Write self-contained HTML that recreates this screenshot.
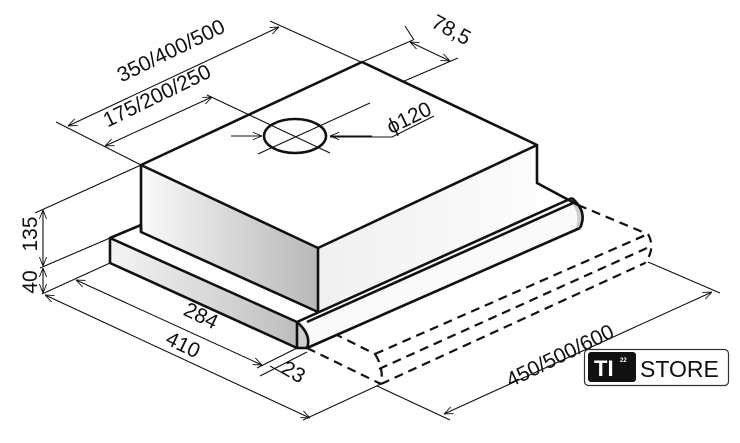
<!DOCTYPE html>
<html><head><meta charset="utf-8"><style>
html,body{margin:0;padding:0;background:#fff;}
svg{display:block;}
text{font-family:"Liberation Sans",sans-serif;fill:#111;}
</style></head><body>
<svg width="740" height="443" viewBox="0 0 740 443" xmlns="http://www.w3.org/2000/svg">
<defs>
<linearGradient id="gf" x1="0" y1="0" x2="1" y2="0">
<stop offset="0" stop-color="#fafafa"/><stop offset="0.5" stop-color="#d8d8d8"/><stop offset="1" stop-color="#b8b8b8"/>
</linearGradient>
<linearGradient id="gr" x1="0" y1="0" x2="1" y2="0">
<stop offset="0" stop-color="#f0f0f0"/><stop offset="1" stop-color="#fcfcfc"/>
</linearGradient>
<linearGradient id="gt" x1="0" y1="0" x2="1" y2="0">
<stop offset="0" stop-color="#f4f4f4"/><stop offset="0.5" stop-color="#dadada"/><stop offset="1" stop-color="#bdbdbd"/>
</linearGradient>
<marker id="a" viewBox="0 0 10 10" refX="10" refY="5" markerWidth="9" markerHeight="9" orient="auto-start-reverse" markerUnits="userSpaceOnUse">
<path d="M0,1 L10,5 L0,9" fill="none" stroke="#111" stroke-width="1"/>
</marker>
</defs>

<g fill="none" stroke="#111" stroke-width="2.2" stroke-dasharray="9,6">
<path d="M578,205 L645,233"/>
<path d="M307,320 L375,354"/>
<path d="M375,354 L648,234"/>
<path d="M379,369 L647,248"/>
<path d="M381,384 L645,263"/>
<path d="M307,348 L381,384"/>
<path d="M648,234 Q656,248 645,263"/>
<path d="M375,354 Q384,368 381,384"/>
</g>

<polygon points="110,238 297,322 297,348 110,263" fill="url(#gt)"/>
<path d="M297,322 L572,198 Q588,212 580,228 L307,348 L297,348 Z" fill="#fafafa" stroke="none"/>
<path d="M297,322 Q312,335 307,348 L297,348 Z" fill="#cfcfcf"/>
<path d="M572,198 Q588,212 580,228 L575,230 Q582,212 568,200 Z" fill="#cfcfcf"/>
<polygon points="141,165 362,62 537,145 318,248" fill="#fff"/>
<polygon points="141,165 318,248 318,312 141,232" fill="url(#gf)"/>
<polygon points="318,248 537,145 537,212 318,312" fill="url(#gr)"/>

<g fill="none" stroke="#111" stroke-width="2.6" stroke-linejoin="round">
<path d="M141,165 L362,62 L537,145 L318,248 Z"/>
<path d="M141,165 L141,232 L318,312 L318,248"/>
<path d="M537,145 L537,183 L578,205"/>
<path d="M141,232 L141,225 L110,238 L110,263 L297,348 L297,322 L110,238"/>
<path d="M297,322 L572,198"/>
<path d="M307,322 L573,203"/>
<path d="M307,348 L580,228"/>
<path d="M297,348 L307,348"/>
<path d="M297,322 Q312,335 307,348"/>
<path d="M572,198 Q588,212 580,228"/>
<ellipse cx="295" cy="136" rx="31" ry="17"/>
</g>

<g fill="none" stroke="#111" stroke-width="1.1">
<path d="M56,122 L141,165"/>
<path d="M270,21 L372,67"/>
<path d="M68,126 L279,27" marker-start="url(#a)" marker-end="url(#a)"/>
<path d="M105,146 L212,97" marker-start="url(#a)" marker-end="url(#a)"/>
<path d="M207,95 L330,153"/>
<path d="M231,136 L262,136" marker-end="url(#a)"/>
<path d="M372,136 L330,136" marker-end="url(#a)"/>
<path d="M258,154 L370,103"/>
<path d="M330,137 L392,137 L434,116"/>
<path d="M362,62 L413,40"/>
<path d="M402,82 L458,58"/>
<path d="M410,42 L450,61" marker-start="url(#a)" marker-end="url(#a)"/>
<path d="M405,26 L414,40"/>
<path d="M35,213 L141,165"/>
<path d="M40,268 L110,238"/>
<path d="M42,294 L110,263"/>
<path d="M43,210 L43,266" marker-start="url(#a)" marker-end="url(#a)"/>
<path d="M43,268 L43,293" marker-start="url(#a)" marker-end="url(#a)"/>
<path d="M76,280 L262,365" marker-start="url(#a)" marker-end="url(#a)"/>
<path d="M257,368 L297,348"/>
<path d="M260,376 L307,352"/>
<path d="M270,366 L288,376"/>
<path d="M45,295 L310,418" marker-start="url(#a)" marker-end="url(#a)"/>
<path d="M303,420 L381,384"/>
<path d="M377,386 L450,420"/>
<path d="M648,262 L720,293"/>
<path d="M444,414 L712,292" marker-start="url(#a)" marker-end="url(#a)"/>
</g>

<g font-size="21">
<text transform="translate(174,57) rotate(-26)" text-anchor="middle">350/400/500</text>
<text transform="translate(160,102) rotate(-26)" text-anchor="middle">175/200/250</text>
<text transform="translate(412,124) rotate(-26)" text-anchor="middle">ϕ120</text>
<text transform="translate(448,36) rotate(28)" text-anchor="middle">78,5</text>
<text transform="translate(37,234) rotate(-90)" text-anchor="middle">135</text>
<text transform="translate(37,282) rotate(-90)" text-anchor="middle">40</text>
<text transform="translate(198,322) rotate(26)" text-anchor="middle">284</text>
<text transform="translate(180,351) rotate(26)" text-anchor="middle">410</text>
<text transform="translate(290,378) rotate(30)" text-anchor="middle">23</text>
<text transform="translate(563,362) rotate(-26)" text-anchor="middle">450/500/600</text>
</g>

<rect x="584.5" y="349.5" width="144" height="36" rx="4" fill="#fff" stroke="#333" stroke-width="1.2"/>
<rect x="588" y="352" width="48" height="30" rx="3" fill="#111"/>
<text x="594" y="376" font-size="22" font-weight="bold" style="fill:#fff">TI</text>
<text x="620" y="362" font-size="6" font-weight="bold" style="fill:#fff">22</text>
<text x="640" y="377" font-size="23" style="fill:#111">STORE</text>
</svg>
</body></html>
